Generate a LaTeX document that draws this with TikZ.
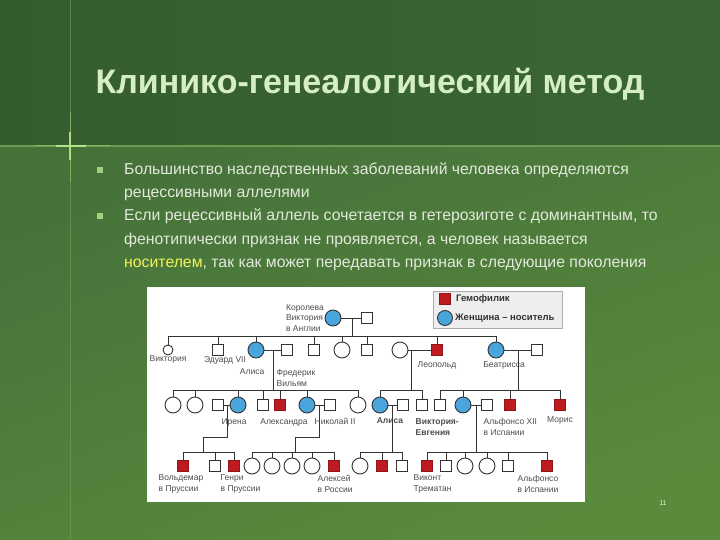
\documentclass[tikz,border=0pt]{standalone}
\usepackage{fontspec}
\setmainfont{Liberation Sans}
\usepackage{tikz}
\usetikzlibrary{positioning}

\definecolor{bgtop}{HTML}{355C2F}
\definecolor{bgtopr}{HTML}{3B6633}
\definecolor{bgmid}{HTML}{46723A}
\definecolor{bgbot}{HTML}{5A8B3D}
\definecolor{crossline}{HTML}{6C9C52}
\definecolor{glow}{HTML}{C4F08E}
\definecolor{titlegreen}{HTML}{D6EEC6}
\definecolor{bodytext}{HTML}{E3E9DC}
\definecolor{bulletgreen}{HTML}{A6CE7E}
\definecolor{noteyellow}{HTML}{F4F25A}
\definecolor{carrierblue}{HTML}{4AA5DC}
\definecolor{hemored}{HTML}{BE1B20}
\definecolor{kingray}{HTML}{333333}
\definecolor{lblgray}{HTML}{4C4C4C}

\tikzset{
  fem/.style={circle, draw=kingray, line width=0.9pt, fill=white, minimum size=16pt, inner sep=0pt},
  carrier/.style={fem, fill=carrierblue},
  male/.style={rectangle, draw=kingray, line width=0.9pt, fill=white, minimum size=11pt, inner sep=0pt},
  hemo/.style={male, fill=hemored, draw=hemored!75!black},
  kin/.style={draw=kingray, line width=0.9pt},
  lbl/.style={font=\fontsize{8.5}{10.5}\selectfont, text=lblgray, inner sep=0.5pt},
  legtxt/.style={font=\fontsize{9.5}{11}\selectfont\bfseries, text=kingray, inner sep=0pt},
  body/.style={font=\fontsize{15.8}{23}\selectfont, text=bodytext, inner sep=0pt},
  bulletsq/.style={rectangle, fill=bulletgreen, minimum size=6pt, inner sep=0pt},
}

\begin{document}
\begin{tikzpicture}[x=1pt, y=-1pt]
\useasboundingbox (0,0) rectangle (720,540);
% background of the slide
\shade[left color=bgtop, right color=bgtopr] (0,0) rectangle (720,146);
\shade[top color=bgmid, bottom color=bgbot, shading angle=20] (0,146) rectangle (720,540);
\draw[crossline, line width=0.8pt, opacity=0.7] (70,0) -- (70,540);
\draw[crossline, line width=1.4pt] (0,146) -- (720,146);
\draw[glow, line width=1pt, opacity=0.35] (70,112) -- (70,182) (35,146) -- (110,146);
\draw[glow, line width=1.3pt, opacity=0.8] (70,132) -- (70,160) (56,146) -- (86,146);

\node[anchor=base west, font=\fontsize{34}{34}\selectfont\bfseries, text=titlegreen] (title) at (92,94) {Клинико-генеалогический метод};

\foreach \t [count=\i] in {
  {Большинство наследственных заболеваний человека определяются},
  {рецессивными аллелями},
  {Если рецессивный аллель сочетается в гетерозиготе с доминантным, то},
  {фенотипически признак не проявляется, а человек называется},
  {\textcolor{noteyellow}{носителем}, так как может передавать признак в следующие поколения}}
  \node[body, anchor=base west] (line\i) at (124,152+23*\i) {\t};
\node[bulletsq] (b1) at (100,170) {};
\node[bulletsq] (b2) at (100,216) {};

\node[font=\fontsize{7}{7}\selectfont, text=bodytext] (pnum) at (663,503) {11};

% pedigree
\node[fill=white, minimum width=438pt, minimum height=215pt, inner sep=0pt, anchor=north west] (chart) at (147,287) {};
\node[draw=gray!65, fill=gray!13, minimum width=129pt, minimum height=37pt, inner sep=0pt, anchor=north west] (legend) at (433,291) {};
\node[hemo] (legred) at (445,299) {};
\node[carrier, minimum size=15pt] (legblue) at (445,318) {};
\node[legtxt, right=5pt of legred] (legredtxt) {Гемофилик};
\node[legtxt, right=2pt of legblue] (legbluetxt) {Женщина – носитель};

\node[carrier, label={[lbl, align=left]left:Королева\\Виктория\\в Англии}] (queen) at (333,318) {};
\node[male] (albert) at (367,318) {};

\node[fem, minimum size=10pt, label={[lbl]below:Виктория}] (vict) at (168,350) {};
\node[male, label={[lbl, xshift=7pt]below:Эдуард VII}] (edw) at (218,350) {};
\node[carrier] (alice) at (256,350) {};
\node[male] (fred) at (287,350) {};
\node[male] (alf) at (314,350) {};
\node[fem] (hel) at (342,350) {};
\node[male] (art) at (367,350) {};
\node[fem] (leow) at (400,350) {};
\node[hemo, label={[lbl, label distance=5pt]below:Леопольд}] (leo) at (437,350) {};
\node[carrier, label={[lbl, label distance=3pt, xshift=8pt]below:Беатрисса}] (beat) at (496,350) {};
\node[male] (henb) at (537,350) {};
\node[lbl, anchor=east] (alicetxt) at (265,372) {Алиса};
\node[lbl, anchor=west, align=left] (fredtxt) at (276,378) {Фредерик\\Вильям};

\node[fem] (avic) at (173,405) {};
\node[fem] (aeli) at (195,405) {};
\node[male] (irhus) at (218,405) {};
\node[carrier, label={[lbl, label distance=4pt, xshift=-4pt]below:Ирена}] (irena) at (238,405) {};
\node[male] (ernst) at (263,405) {};
\node[hemo] (fried) at (280,405) {};
\node[carrier] (alix) at (307,405) {};
\node[male, label={[lbl, label distance=7pt, xshift=5pt]below:Николай II}] (nick) at (330,405) {};
\node[fem] (marie) at (358,405) {};
\node[carrier, label={[lbl, font=\fontsize{8.5}{10.5}\selectfont\bfseries, label distance=3pt, xshift=10pt]below:Алиса}] (lali) at (380,405) {};
\node[male] (lalihus) at (403,405) {};
\node[male] (charl) at (422,405) {};
\node[male] (balex) at (440,405) {};
\node[carrier] (veug) at (463,405) {};
\node[male] (alfons) at (487,405) {};
\node[hemo] (bleo) at (510,405) {};
\node[hemo, label={[lbl, label distance=5pt]below:Морис}] (maur) at (560,405) {};
\node[lbl] (alixtxt) at (284,422) {Александра};
\node[lbl, anchor=west, align=left, font=\fontsize{8.5}{10.5}\selectfont\bfseries] (veugtxt) at (415,427) {Виктория-\\Евгения};
\node[lbl, anchor=west, align=left] (alfonstxt) at (483,427) {Альфонсо XII\\в Испании};

\node[hemo] (wald) at (183,466) {};
\node[male] (ihen) at (215,466) {};
\node[hemo] (henry) at (234,466) {};
\node[fem] (olga) at (252,466) {};
\node[fem] (tat) at (272,466) {};
\node[fem] (mari) at (292,466) {};
\node[fem] (anas) at (312,466) {};
\node[hemo] (alexei) at (334,466) {};
\node[fem] (lmay) at (360,466) {};
\node[hemo] (rupert) at (382,466) {};
\node[male] (alsq) at (402,466) {};
\node[hemo] (alfj) at (427,466) {};
\node[male] (jaime) at (446,466) {};
\node[fem] (beatr) at (465,466) {};
\node[fem] (maria) at (487,466) {};
\node[male] (juan) at (508,466) {};
\node[hemo] (gonz) at (547,466) {};
\node[lbl, anchor=west, align=left] (waldtxt) at (158,484) {Вольдемар\\в Пруссии};
\node[lbl, anchor=west, align=left] (henrytxt) at (220,484) {Генри\\в Пруссии};
\node[lbl, anchor=west, align=left] (alexeitxt) at (317,484) {Алексей\\в России};
\node[lbl, anchor=west, align=left] (alfjtxt) at (413,484) {Виконт\\Трематан};
\node[lbl, align=center] (gonztxt) at (538,484) {Альфонсо\\в Испании};

\coordinate (qm) at (352,318);
\coordinate (qs) at (352,336);
\coordinate (am) at (273,350);
\coordinate (as) at (273,390);
\coordinate (lm) at (411,350);
\coordinate (ls) at (411,390);
\coordinate (bm) at (518,350);
\coordinate (bs) at (518,390);
\coordinate (im) at (227,405);
\coordinate (ik) at (203,437);
\coordinate (is) at (203,452);
\coordinate (xm) at (319,405);
\coordinate (xk) at (295,437);
\coordinate (xs) at (295,452);
\coordinate (lim) at (392,405);
\coordinate (lis) at (392,452);
\coordinate (vm) at (476,405);
\coordinate (vs) at (476,452);

\draw[kin] (queen) -- (albert) (qm) -- (qs) (vict |- qs) -- (beat |- qs);
\foreach \n in {vict, edw, alice, alf, hel, art, leo, beat}
  \draw[kin] (\n) -- (\n |- qs);

\draw[kin] (alice) -- (fred) (am) -- (as) (avic |- as) -- (marie |- as);
\foreach \n in {avic, aeli, irena, ernst, fried, alix, marie}
  \draw[kin] (\n) -- (\n |- as);
\draw[kin] (leow) -- (leo) (lm) -- (ls) (lali |- ls) -- (charl |- ls);
\foreach \n in {lali, charl}
  \draw[kin] (\n) -- (\n |- ls);
\draw[kin] (beat) -- (henb) (bm) -- (bs) (balex |- bs) -- (maur |- bs);
\foreach \n in {balex, veug, bleo, maur}
  \draw[kin] (\n) -- (\n |- bs);

\draw[kin] (irhus) -- (irena) (im) |- (ik) -- (is) (wald |- is) -- (henry |- is);
\foreach \n in {wald, ihen, henry}
  \draw[kin] (\n) -- (\n |- is);
\draw[kin] (alix) -- (nick) (xm) |- (xk) -- (xs) (olga |- xs) -- (alexei |- xs);
\foreach \n in {olga, tat, mari, anas, alexei}
  \draw[kin] (\n) -- (\n |- xs);
\draw[kin] (lali) -- (lalihus) (lim) -- (lis) (lmay |- lis) -- (alsq |- lis);
\foreach \n in {lmay, rupert, alsq}
  \draw[kin] (\n) -- (\n |- lis);
\draw[kin] (veug) -- (alfons) (vm) -- (vs) (alfj |- vs) -- (gonz |- vs);
\foreach \n in {alfj, jaime, beatr, maria, juan, gonz}
  \draw[kin] (\n) -- (\n |- vs);
\end{tikzpicture}
\end{document}
